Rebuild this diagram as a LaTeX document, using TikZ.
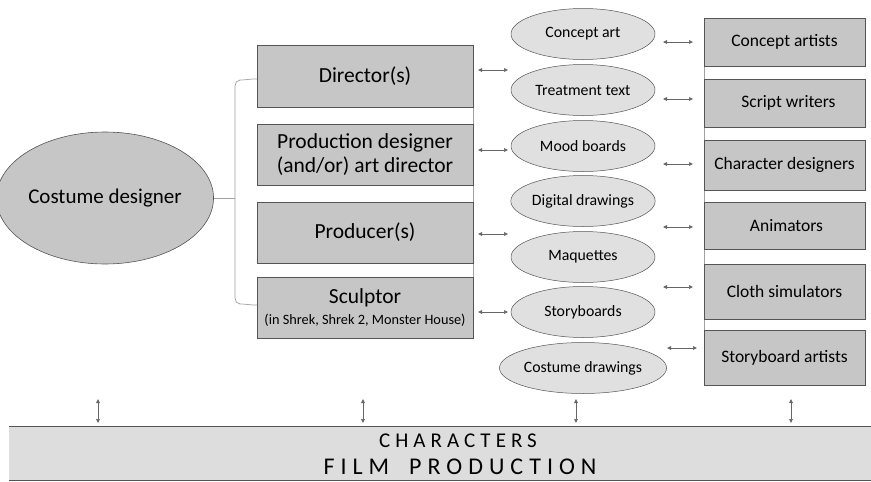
\documentclass[tikz,border=0pt]{standalone}
\usepackage{fontspec}
\setmainfont{Carlito}
\usetikzlibrary{arrows.meta,shapes.geometric}
\definecolor{boxfill}{HTML}{C6C6C6}
\definecolor{ellfill}{HTML}{E0E0E0}
\definecolor{bandfill}{HTML}{DDDDDD}
\definecolor{edge}{HTML}{555555}
\definecolor{linkgray}{HTML}{A0A0A0}
\tikzset{
  leftbox/.style={draw=edge, fill=boxfill, line width=0.6pt, minimum width=216pt, inner sep=0pt, align=center, font=\fontsize{21.5}{24}\selectfont},
  rightbox/.style={draw=edge, fill=boxfill, line width=0.6pt, minimum width=161pt, inner sep=0pt, align=center, font=\fontsize{17.5}{20}\selectfont},
  midell/.style={ellipse, draw=edge, fill=ellfill, line width=0.5pt, minimum width=144pt, minimum height=51pt, inner sep=0pt, font=\fontsize{15.8}{18}\selectfont},
  arr/.style={{Triangle[length=4pt,width=3.6pt]}-{Triangle[length=4pt,width=3.6pt]}, line width=0.5pt, draw=black!60, fill=black!80},
}
\begin{document}
\begin{tikzpicture}[x=1pt,y=-1pt]
\useasboundingbox (0,0) rectangle (871,482);
% links behind boxes
\draw[linkgray, line width=0.6pt] (473,45) -- (473,338);
\draw[linkgray, line width=0.6pt] (704,18) -- (704,385);
% costume designer
\node[ellipse, draw=edge, fill=boxfill, line width=0.6pt, minimum width=190pt, minimum height=132pt, inner sep=0pt, font=\fontsize{21}{24}\selectfont] (cd) at (105,198) {Costume designer};
% left boxes
\node[leftbox, minimum height=62pt] (dir) at (365,76) {Director(s)};
\node[leftbox, minimum height=61pt] (prod) at (365,154.5) {Production designer\\(and/or) art director};
\node[leftbox, minimum height=61pt] (pro) at (365,232.5) {Producer(s)};
\node[leftbox, minimum height=61pt] (sc) at (365,307.5) {Sculptor\\[-3pt]{\fontsize{14.3}{16}\selectfont (in Shrek, Shrek 2, Monster House)}};
% bracket
\coordinate (bm) at (235,198);
\coordinate (bt) at (257,79);
\coordinate (bb) at (257,305);
\draw[linkgray, line width=0.7pt] (cd.east) -- (bm);
\draw[linkgray, line width=0.7pt] (bt) to[out=178,in=0] (240,80) to[out=180,in=90] (235,86) -- (235,298) to[out=-90,in=180] (240,304) to[out=0,in=182] (bb);
% middle ellipses
\node[midell] (e1) at (583,34) {Concept art};
\node[midell] (e2) at (583,90) {Treatment text};
\node[midell] (e3) at (583,146) {Mood boards};
\node[midell] (e4) at (583,201) {Digital drawings};
\node[midell] (e5) at (583,257) {Maquettes};
\node[midell] (e6) at (583,312) {Storyboards};
\node[midell] (e7) at (583,368) {Costume drawings};
% right boxes
\node[rightbox, minimum height=48pt] (r1) at (784.5,42) {Concept artists};
\node[rightbox, minimum height=48pt] (r2) at (784.5,103) {\hspace{8pt}Script writers};
\node[rightbox, minimum height=50pt] (r3) at (784.5,165) {Character designers};
\node[rightbox, minimum height=47pt] (r4) at (784.5,225.5) {\hspace{4pt}Animators};
\node[rightbox, minimum height=55pt] (r5) at (784.5,291.5) {Cloth simulators};
\node[rightbox, minimum height=55pt] (r6) at (784.5,357.5) {Storyboard artists};
% arrows left boxes <-> ellipses
\foreach \n/\y in {a/70,b/150,c/234,d/312}{
  \coordinate (l\n s) at (478,\y);
  \coordinate (l\n e) at (508,\y);
  \draw[arr] (l\n s) -- (l\n e);
}
% arrows ellipses <-> right boxes
\foreach \n/\y/\xa in {a/42/663,b/99/663,c/164/663,d/227/663,e/287/663,f/348/667}{
  \coordinate (r\n s) at (\xa,\y);
  \coordinate (r\n e) at (\xa+30,\y);
  \draw[arr] (r\n s) -- (r\n e);
}
% band
\fill[bandfill] (9,426) rectangle (871,480);
\draw[edge, line width=0.7pt] (9,426) -- (871,426);
\draw[edge, line width=0.7pt] (9,480) -- (871,480);
\node[font=\fontsize{21}{24}\selectfont\addfontfeatures{LetterSpace=24}] (ch) at (458,441) {CHARACTERS};
\node[font=\fontsize{24}{26}\selectfont\addfontfeatures{LetterSpace=25}] (fp) at (460,467) {FILM\hspace{20pt}PRODUCTION};
% vertical arrows
\foreach \n/\x in {a/98,b/363,c/576,d/791}{
  \coordinate (v\n s) at (\x,399);
  \coordinate (v\n e) at (\x,423);
  \draw[arr] (v\n s) -- (v\n e);
}
\end{tikzpicture}
\end{document}
